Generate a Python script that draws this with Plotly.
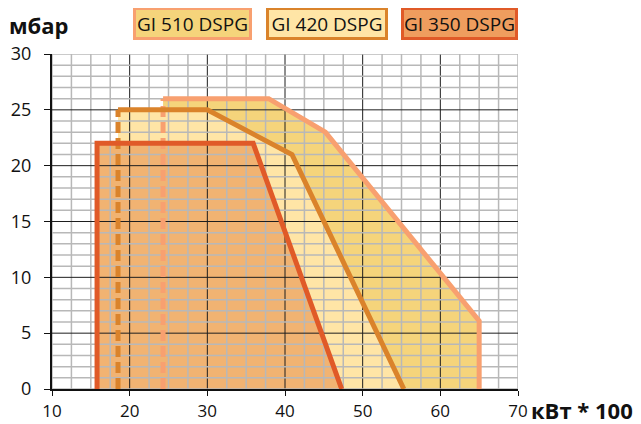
import plotly.graph_objects as go

# ---- data ----
models = ["GI 510 DSPG", "GI 420 DSPG", "GI 350 DSPG"]
gi510_x = [24.3, 24.3, 37.9, 45.2, 65.0, 65.0]
gi510_y = [0, 26, 26, 23, 6.1, 0]
gi420_x = [18.5, 18.5, 30.0, 40.9, 55.3]
gi420_y = [0, 25, 25, 21, 0]
gi350_x = [15.8, 15.8, 35.9, 47.3]
gi350_y = [0, 22, 22, 0]
x_ticks = [10, 20, 30, 40, 50, 60, 70]
y_ticks = [0, 5, 10, 15, 20, 25, 30]
y_label = "мбар"
x_label = "кВт * 100"

# styles
stroke = ["#F8A070", "#DA832B", "#E05A28"]
fill = ["#F5D47B", "#FFE5A6", "#F1B372"]
legend_fill = ["#F5D47B", "#FFE5A6", "#EF9D5E"]
dashed_left = [True, True, False]

series = [(gi510_x, gi510_y), (gi420_x, gi420_y), (gi350_x, gi350_y)]

fig = go.Figure()
shapes = []

# filled areas (below the grid)
for (xs, ys), fc in zip(series, fill):
    path = "M " + " L ".join(f"{x},{y}" for x, y in zip(xs, ys)) + " Z"
    shapes.append(dict(type="path", path=path, xref="x", yref="y",
                       fillcolor=fc, line=dict(width=0), layer="below"))

# grid lines drawn over the fills
minor_c = "#b8b8b8"
major_c = "#1e1e1e"
xv = 10.0
while xv <= 70.001:
    is_major = abs(xv % 10) < 1e-6 and 10 < xv < 70
    shapes.append(dict(type="line", xref="x", yref="y", x0=xv, x1=xv, y0=0, y1=30,
                       line=dict(color=major_c if is_major else minor_c,
                                 width=1 if is_major else 1.5), layer="below"))
    xv += 2.5
for yv in range(0, 31):
    is_major = yv % 5 == 0 and 0 < yv < 30
    shapes.append(dict(type="line", xref="x", yref="y", x0=10, x1=70, y0=yv, y1=yv,
                       line=dict(color=major_c if is_major else minor_c,
                                 width=1 if is_major else 1.5), layer="below"))

# outlines
for (xs, ys), sc, dl in zip(series, stroke, dashed_left):
    if dl:
        fig.add_trace(go.Scatter(x=xs[:2], y=ys[:2], mode="lines",
                                 line=dict(color=sc, width=5, dash="11px,5px"),
                                 hoverinfo="skip", showlegend=False))
        fig.add_trace(go.Scatter(x=xs[1:], y=ys[1:], mode="lines",
                                 line=dict(color=sc, width=5),
                                 hoverinfo="skip", showlegend=False))
    else:
        fig.add_trace(go.Scatter(x=xs, y=ys, mode="lines",
                                 line=dict(color=sc, width=5),
                                 hoverinfo="skip", showlegend=False))

# page layout (the HTML body adds an 8px margin, compensate for it)
OFF = 8
PAGE_W, PAGE_H = 641, 424
PL, PT = 52, 54          # plot area left/top in page px
PW, PH = 466, 335        # plot area size
W, H = PAGE_W - OFF, PAGE_H - OFF
L, T = PL - OFF, PT - OFF
R = W - L - PW
B = H - T - PH


def px(xp):
    return (xp - PL) / PW


def py(yp):
    return (PT + PH - yp) / PH


boxes = [(133, 252), (266, 388), (401, 518)]
BW, BP = 3, 1
annotations = []
for name, (x0, x1), lf, sc in zip(models, boxes, legend_fill, stroke):
    annotations.append(dict(
        text=name, xref="paper", yref="paper", x=px((x0 + x1) / 2), y=py(23.5),
        xanchor="center", yanchor="middle", showarrow=False,
        width=(x1 - x0) - 2 * (BW + BP), height=33 - 2 * (BW + BP),
        borderpad=BP, borderwidth=BW,
        bordercolor=sc, bgcolor=lf,
        font=dict(family="Open Sans", size=19, color="#111")))

annotations.append(dict(text=f"<b>{y_label}</b>", xref="paper", yref="paper",
                        x=px(7), y=py(25), xanchor="left", yanchor="middle",
                        showarrow=False,
                        font=dict(family="Open Sans", size=22, color="#111")))
annotations.append(dict(text=f"<b>{x_label}</b>", xref="paper", yref="paper",
                        x=px(529), y=py(410), xanchor="left", yanchor="middle",
                        showarrow=False,
                        font=dict(family="Open Sans", size=22, color="#111")))

fig.update_layout(
    width=W, height=H,
    margin=dict(l=L, r=R, t=T, b=B, autoexpand=False),
    paper_bgcolor="white", plot_bgcolor="white",
    shapes=shapes, annotations=annotations, showlegend=False,
    xaxis=dict(range=[10, 70], tickvals=x_ticks, showgrid=False, zeroline=False,
               showline=True, linecolor="#111", linewidth=2,
               ticks="outside", ticklen=5, tickcolor="#111", tickwidth=1,
               ticklabelstandoff=1,
               tickfont=dict(family="Open Sans", size=17, color="#111"),
               layer="above traces", fixedrange=True),
    yaxis=dict(range=[0, 30], tickvals=y_ticks, showgrid=False, zeroline=False,
               showline=True, linecolor="#111", linewidth=2,
               ticks="outside", ticklen=6, tickcolor="#111", tickwidth=1,
               ticklabelstandoff=9,
               tickfont=dict(family="Open Sans", size=18, color="#111"),
               layer="above traces", fixedrange=True),
)

fig.write_html("out.html")
